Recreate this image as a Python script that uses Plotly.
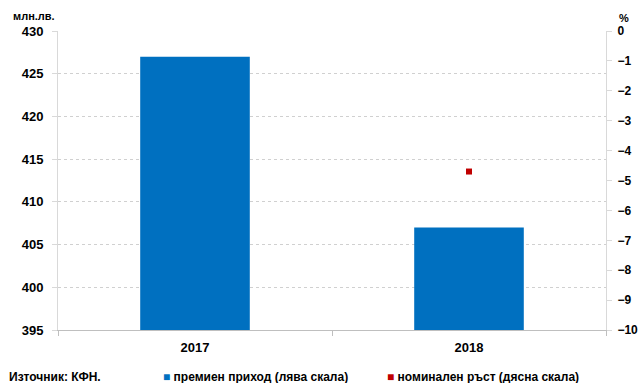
import plotly.graph_objects as go

years = ["2017", "2018"]
premium_income = [427.0, 407.0]
nominal_growth = [None, -4.7]

left_ticks = [395, 400, 405, 410, 415, 420, 425, 430]
right_ticks = list(range(-10, 1))

FONT = "Liberation Sans"
BOLD = dict(family=FONT, size=13, color="#000", weight="bold")
fig = go.Figure()
fig.add_trace(go.Bar(
    x=years, y=premium_income, name="премиен приход (лява скала)",
    marker=dict(color="#0070C0", line=dict(width=0)), width=0.4,
    yaxis="y", showlegend=False,
))
fig.add_trace(go.Scatter(
    x=years, y=nominal_growth, name="номинален ръст (дясна скала)",
    mode="markers", marker=dict(symbol="square", size=6, color="#C00000"),
    yaxis="y2", showlegend=False,
))

fig.update_layout(
    width=639, height=383,
    margin=dict(l=58, r=33, t=31, b=53, autoexpand=False),
    paper_bgcolor="white", plot_bgcolor="white",
    font=dict(family=FONT, size=12, color="#000000"),
    showlegend=False,
    xaxis=dict(
        type="category", showline=True, linecolor="#BFBFBF", linewidth=1,
        ticks="outside", tickson="boundaries", ticklen=5, tickcolor="#BFBFBF",
        tickfont=BOLD, showgrid=False, automargin=False, ticklabelstandoff=5,
    ),
    yaxis=dict(
        range=[395, 430], tickvals=left_ticks, showline=True, linecolor="#D9D9D9",
        ticks="outside", ticklen=5, tickcolor="#D9D9D9",
        showgrid=True, gridcolor="#D0D0D0", griddash="dot", gridwidth=1,
        tickfont=BOLD, zeroline=False, automargin=False, ticklabelstandoff=6,
    ),
    yaxis2=dict(
        range=[-10, 0], tickvals=right_ticks, overlaying="y", side="right",
        showline=True, linecolor="#D9D9D9", ticks="outside", ticklen=5, tickcolor="#D9D9D9",
        showgrid=False, zeroline=False, tickfont=dict(BOLD, size=12),
        automargin=False, ticklabelstandoff=3,
    ),
)

ann_font = dict(family=FONT, size=12, color="#000", weight="bold")
fig.add_annotation(text="млн.лв.", x=0, xref="paper", xanchor="left", xshift=-47,
                   y=1, yref="paper", yanchor="bottom", yshift=7, showarrow=False,
                   font=dict(ann_font, size=11))
fig.add_annotation(text="%", x=1, xref="paper", xanchor="left", xshift=11,
                   y=1, yref="paper", yanchor="bottom", yshift=5, showarrow=False,
                   font=dict(ann_font, size=11))
fig.add_annotation(text="Източник: КФН.", x=0, xref="paper", xanchor="left", xshift=-51,
                   y=0, yref="paper", yanchor="middle", yshift=-47, showarrow=False, font=ann_font)
legend_items = [
    ("премиен приход (лява скала)", "#0070C0", 161),
    ("номинален ръст (дясна скала)", "#C00000", 385),
]
for name, color, px in legend_items:
    fig.add_annotation(text=f"<span style='color:{color}'>■</span> {name}",
                       x=(px - 58) / 548, xref="paper", xanchor="left",
                       y=0, yref="paper", yanchor="middle", yshift=-47,
                       showarrow=False, font=ann_font)
fig.write_html("out.html", config={"displayModeBar": False},
               post_script="document.body.style.margin='0px';")
